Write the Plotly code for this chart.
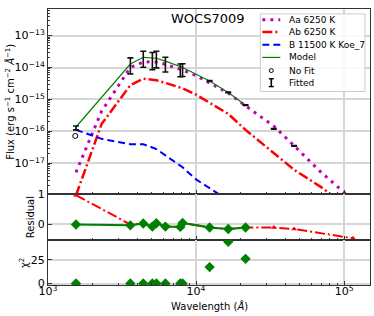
import numpy as np
import plotly.graph_objects as go
from plotly.subplots import make_subplots

# ---------------- data ----------------
# fitted photometry (wavelength in Angstrom, log10 flux, half error in dex)
fit_wave = [1545, 3600, 4400, 5070, 5395, 6210, 7830, 8110, 12350, 16500, 21600, 33500, 46000, 115000]
fit_logflux = [-15.89, -13.95, -13.74, -13.80, -13.75, -13.91, -14.09, -14.08,
               -14.42, -14.78, -15.18, -15.92, -16.45, -17.97]
fit_logerr = [0.06, 0.25, 0.25, 0.27, 0.26, 0.23, 0.20, 0.20, 0.01, 0.01, 0.01, 0.01, 0.01, 0.01]

# point not used in the fit
nofit_wave = [1528]
nofit_logflux = [-16.14]

# combined model
model_wave = [1545, 3600, 4400, 5070, 5395, 6210, 7830, 8110, 12350, 16500, 21600]
model_logflux = [-15.86, -13.89, -13.68, -13.70, -13.71, -13.80, -13.97, -14.00, -14.42, -14.78, -15.18]

# component SEDs
sed_wave = [1545, 2300, 3600, 4400, 5070, 5395, 6210, 7830, 8110, 10000, 12350, 16500,
            21600, 33500, 46000, 70000, 115000]
aa_logflux = [-17.28, -15.37, -14.00, -13.83, -13.82, -13.83, -13.90, -14.05, -14.08, -14.25,
              -14.48, -14.80, -15.20, -15.83, -16.45, -17.28, -18.15]
ab_logflux = [-18.00, -15.77, -14.55, -14.35, -14.38, -14.40, -14.48, -14.62, -14.65, -14.85,
              -15.10, -15.45, -15.95, -16.69, -17.20, -17.74, -18.50]
b_logflux = [-15.95, -16.23, -16.40, -16.40, -16.50, -16.55, -16.75, -17.06, -17.12, -17.50,
             -17.77, -18.15, None, None, None, None, None]

# residuals
res_wave = [1545, 3600, 4400, 5070, 5395, 6210, 7830, 8110, 12350, 16500, 21600]
res_values = [0.00, -0.03, 0.03, -0.07, 0.04, -0.07, -0.08, 0.05, -0.10, -0.15, -0.10]
res2_wave = [1545, 3600, 4400, 5070, 5395, 6210, 7830, 8110, 12350, 16500, 21600, 33500, 46000, 115000]
res2_values = [0.95, 0.00, 0.03, -0.07, 0.04, -0.07, -0.08, 0.05, -0.10, -0.15, -0.10, -0.10, -0.15, -0.45]

# chi^2
chi2_values = [0, 0, 0, 0, 0, 0, 0, 0, 17.3, 44.0, 26.0]

labels = ["Aa 6250 K", "Ab 6250 K", "B 11500 K Koe_7", "Model", "No Fit", "Fitted"]
title_text = "WOCS7009"

# ---------------- styling ----------------
FONT = "DejaVu Sans"
MAG, RED, BLUE, GREEN = "#bf00bf", "#ff0000", "#0000ff", "#008000"
AA_DASH, AB_DASH, B_DASH = "3px,5px", "10px,3px,2px,3px", "7px,4px"

W, H = 374, 316
ML, MR, MT, MB = 48, 3, 4, 31
PW, PH = W - ML - MR, H - MT - MB


def px_x(px):
    return (px - ML) / PW


def px_y(py):
    return 1 - (py - MT) / PH


def lin(v):
    return [None if x is None else 10.0 ** x for x in v]


fig = make_subplots(rows=3, cols=1, shared_xaxes=True, vertical_spacing=0)

fig.add_trace(go.Scatter(x=sed_wave, y=lin(aa_logflux), mode="lines", name=labels[0],
                         line=dict(color=MAG, width=3, dash=AA_DASH)), row=1, col=1)
fig.add_trace(go.Scatter(x=sed_wave, y=lin(ab_logflux), mode="lines", name=labels[1],
                         line=dict(color=RED, width=2.5, dash=AB_DASH)), row=1, col=1)
fig.add_trace(go.Scatter(x=sed_wave, y=lin(b_logflux), mode="lines", name=labels[2],
                         line=dict(color=BLUE, width=2, dash=B_DASH)), row=1, col=1)
fig.add_trace(go.Scatter(x=model_wave, y=lin(model_logflux), mode="lines", name=labels[3],
                         line=dict(color=GREEN, width=1.2)), row=1, col=1)
fig.add_trace(go.Scatter(x=nofit_wave, y=lin(nofit_logflux), mode="markers", name=labels[4],
                         marker=dict(symbol="circle-open", size=5, color="black",
                                     line=dict(width=1, color="black"))), row=1, col=1)

fit_y = [10.0 ** c for c in fit_logflux]
err_hi = [10.0 ** (c + h) - 10.0 ** c for c, h in zip(fit_logflux, fit_logerr)]
err_lo = [10.0 ** c - 10.0 ** (c - h) for c, h in zip(fit_logflux, fit_logerr)]
fig.add_trace(go.Scatter(x=fit_wave, y=fit_y, mode="markers", name=labels[5],
                         marker=dict(size=1, color="black"),
                         error_y=dict(type="data", symmetric=False, array=err_hi, arrayminus=err_lo,
                                      color="#111111", thickness=1.6, width=3)), row=1, col=1)

# residual panel
fig.add_trace(go.Scatter(x=res2_wave, y=res2_values, mode="lines+markers",
                         line=dict(color=RED, width=2, dash=AB_DASH),
                         marker=dict(symbol="triangle-up", size=5, color=RED)), row=2, col=1)
fig.add_trace(go.Scatter(x=res_wave, y=res_values, mode="lines+markers",
                         line=dict(color=GREEN, width=2),
                         marker=dict(symbol="diamond", size=8, color=GREEN)), row=2, col=1)

# chi2 panel
fig.add_trace(go.Scatter(x=res_wave, y=chi2_values, mode="markers",
                         marker=dict(symbol="diamond", size=8, color=GREEN)), row=3, col=1)

axis_common = dict(showline=True, linecolor="#333333", linewidth=1, mirror=True,
                   ticks="inside", ticklen=4, tickcolor="#333333", showgrid=True,
                   gridcolor="#d6d6d6", gridwidth=1.5, zeroline=False,
                   tickfont=dict(size=11, color="black", family=FONT))

minor_x = [m * 10 ** d for d in (3, 4, 5) for m in range(2, 10)]
for i in (1, 2, 3):
    fig.update_xaxes(type="log", range=[3, 5.175], tickvals=[1e3, 1e4, 1e5],
                     ticktext=["10<sup>3</sup>", "10<sup>4</sup>", "10<sup>5</sup>"],
                     minor=dict(ticks="inside", ticklen=2, tickcolor="#333333", tickvals=minor_x,
                                showgrid=False),
                     **axis_common, row=i, col=1)
fig.update_xaxes(ticklabelstandoff=-4, row=3, col=1)

minor_y = [m * 10.0 ** d for d in range(-18, -12) for m in range(2, 10)]
fig.update_yaxes(type="log", range=[-17.945, -12.17],
                 tickvals=[1e-17, 1e-16, 1e-15, 1e-14, 1e-13],
                 ticktext=["10<sup>−17</sup>", "10<sup>−16</sup>", "10<sup>−15</sup>",
                           "10<sup>−14</sup>", "10<sup>−13</sup>"],
                 minor=dict(ticks="inside", ticklen=2, tickcolor="#333333", tickvals=minor_y,
                            showgrid=False),
                 **axis_common, row=1, col=1)
fig.update_yaxes(range=[-0.5, 1.0], tickvals=[0, 1], ticktext=["0", "1"], **axis_common, row=2, col=1)
fig.update_yaxes(range=[-1.5, 46], tickvals=[0, 25], ticktext=["0", "25"], **axis_common, row=3, col=1)

fig.update_layout(
    yaxis=dict(domain=[px_y(192), 1.0]),
    yaxis2=dict(domain=[px_y(239), px_y(192)]),
    yaxis3=dict(domain=[0.0, px_y(239)]),
)

# ---------------- legend (drawn as a box of samples and texts) ----------------
shapes = []
leg_rows = [15, 27.5, 40.5, 53.3, 66.7, 79]
shapes.append(dict(type="rect", xref="paper", yref="paper",
                   x0=px_x(261), x1=px_x(366), y0=px_y(88), y1=px_y(9),
                   fillcolor="rgba(255,255,255,0.85)", line=dict(color="#cccccc", width=1)))
sample_styles = [dict(color=MAG, width=3, dash=AA_DASH),
                 dict(color=RED, width=2.5, dash=AB_DASH),
                 dict(color=BLUE, width=2, dash=B_DASH),
                 dict(color=GREEN, width=1.2)]
for r, st in zip(leg_rows[:4], sample_styles):
    shapes.append(dict(type="line", xref="paper", yref="paper",
                       x0=px_x(263), x1=px_x(281), y0=px_y(r), y1=px_y(r), line=st))
# open circle sample
shapes.append(dict(type="circle", xref="paper", yref="paper",
                   x0=px_x(270), x1=px_x(274), y0=px_y(leg_rows[4] + 2), y1=px_y(leg_rows[4] - 2),
                   line=dict(color="black", width=1)))
# error bar sample
r = leg_rows[5]
shapes.append(dict(type="line", xref="paper", yref="paper", x0=px_x(272), x1=px_x(272),
                   y0=px_y(r + 4), y1=px_y(r - 4), line=dict(color="black", width=1.6)))
for dy in (-4, 4):
    shapes.append(dict(type="line", xref="paper", yref="paper", x0=px_x(269.5), x1=px_x(274.5),
                       y0=px_y(r + dy), y1=px_y(r + dy), line=dict(color="black", width=1.4)))

annotations = []
for r, lab in zip(leg_rows, labels):
    annotations.append(dict(text=lab, x=px_x(288), y=px_y(r), xref="paper", yref="paper",
                            showarrow=False, xanchor="left", yanchor="middle",
                            font=dict(size=9, color="black", family=FONT)))

annotations += [
    dict(text=title_text, x=px_x(208), y=px_y(14), xref="paper", yref="paper", showarrow=False,
         font=dict(size=13, color="black", family=FONT), xanchor="center", yanchor="middle"),
    dict(text="Flux (erg s<sup>−1</sup> cm<sup>−2</sup> <i>Å</i><sup>−1</sup>)", x=0, y=px_y(98.5),
         xref="paper", yref="paper", xshift=-38, textangle=-90, showarrow=False,
         font=dict(size=10, color="black", family=FONT), xanchor="center", yanchor="middle"),
    dict(text="Residual", x=0, y=px_y(216), xref="paper", yref="paper", xshift=-18, textangle=-90,
         showarrow=False, font=dict(size=10, color="black", family=FONT),
         xanchor="center", yanchor="middle"),
    dict(text="χ<sup>2</sup>", x=0, y=px_y(262.7), xref="paper", yref="paper", xshift=-24,
         textangle=-90, showarrow=False, font=dict(size=10, color="black", family=FONT),
         xanchor="center", yanchor="middle"),
    dict(text="Wavelength (<i>Å</i>)", x=0.5, y=0, xref="paper", yref="paper", yshift=-21,
         showarrow=False, font=dict(size=10, color="black", family=FONT),
         xanchor="center", yanchor="middle"),
]

fig.update_layout(
    width=W, height=H,
    margin=dict(l=ML, r=MR, t=MT, b=MB),
    paper_bgcolor="white", plot_bgcolor="white",
    font=dict(family=FONT, size=10, color="black"),
    showlegend=False,
    shapes=shapes,
    annotations=annotations,
)

fig.write_html("out.html", config={"displayModeBar": False},
               post_script="document.body.style.margin='0px';document.body.style.padding='0px';"
                           "document.body.style.overflow='hidden';")
